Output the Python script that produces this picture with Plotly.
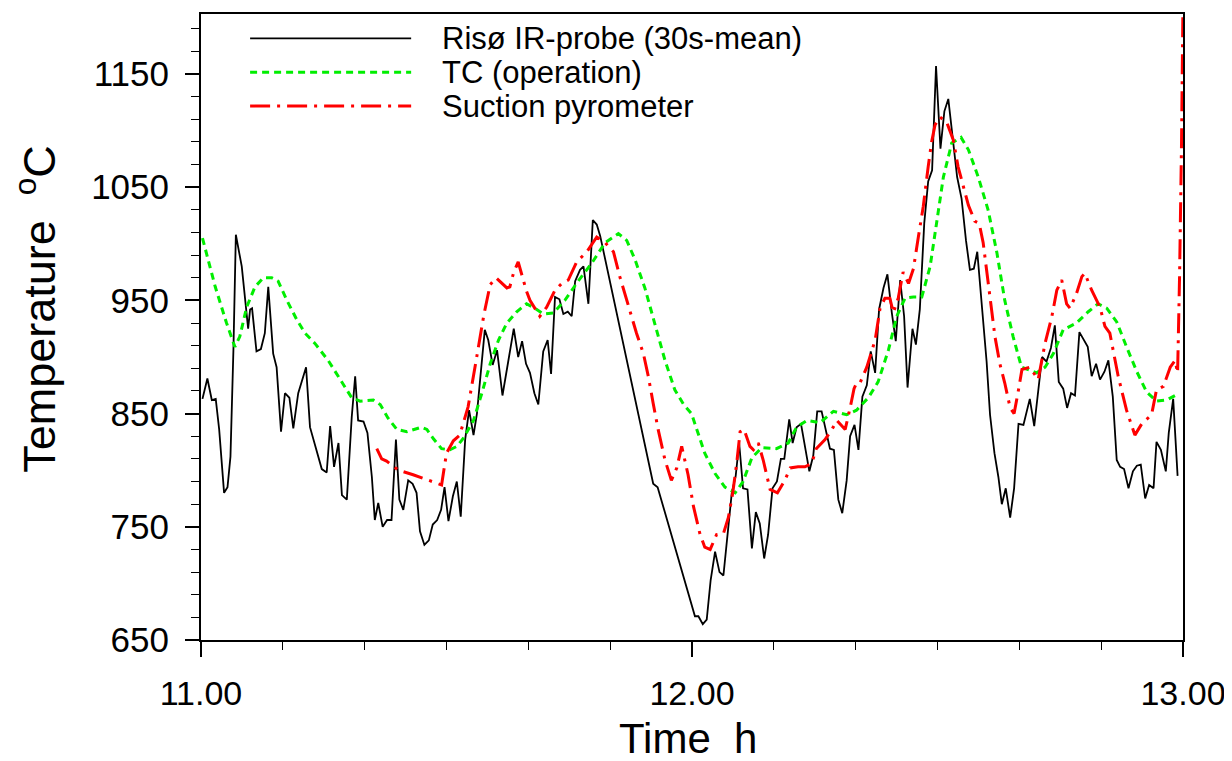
import plotly.graph_objects as go

# ---------------- data ----------------
ir_time = [11.003, 11.013, 11.022, 11.030, 11.037, 11.047, 11.054, 11.060, 11.066, 11.071,
           11.083, 11.096, 11.100, 11.104, 11.113, 11.122, 11.130, 11.137, 11.147, 11.154,
           11.163, 11.171, 11.180, 11.188, 11.198, 11.214, 11.222, 11.236, 11.246, 11.256,
           11.263, 11.271, 11.280, 11.287, 11.297, 11.307, 11.314, 11.320, 11.331, 11.339,
           11.348, 11.354, 11.361, 11.370, 11.379, 11.388, 11.397, 11.404, 11.412, 11.422,
           11.431, 11.439, 11.446, 11.455, 11.464, 11.472, 11.481, 11.489, 11.496, 11.504,
           11.513, 11.521, 11.529, 11.538, 11.546, 11.555, 11.562, 11.578, 11.585, 11.594,
           11.603, 11.614, 11.626, 11.637, 11.646, 11.654, 11.662, 11.670, 11.679, 11.687,
           11.697, 11.706, 11.713, 11.721, 11.730, 11.738, 11.747, 11.755, 11.762, 11.772,
           11.779, 11.789, 11.798, 11.806, 11.813, 11.921, 11.930, 12.006, 12.013, 12.022,
           12.030, 12.038, 12.047, 12.056, 12.064, 12.072, 12.081, 12.089, 12.096, 12.104,
           12.113, 12.122, 12.130, 12.138, 12.147, 12.155, 12.164, 12.173, 12.181, 12.188,
           12.198, 12.205, 12.213, 12.222, 12.232, 12.239, 12.247, 12.255, 12.264, 12.273,
           12.281, 12.289, 12.298, 12.306, 12.315, 12.322, 12.331, 12.339, 12.347, 12.356,
           12.364, 12.373, 12.381, 12.390, 12.398, 12.407, 12.415, 12.424, 12.432, 12.439,
           12.449, 12.456, 12.464, 12.473, 12.481, 12.489, 12.497, 12.506, 12.514, 12.522,
           12.532, 12.540, 12.549, 12.558, 12.566, 12.574, 12.581, 12.591, 12.600, 12.607,
           12.616, 12.624, 12.631, 12.639, 12.648, 12.656, 12.665, 12.675, 12.688, 12.697,
           12.705, 12.713, 12.722, 12.731, 12.739, 12.747, 12.756, 12.764, 12.772, 12.780,
           12.789, 12.798, 12.806, 12.814, 12.823, 12.831, 12.840, 12.848, 12.857, 12.865,
           12.872, 12.880, 12.889, 12.898, 12.906, 12.914, 12.923, 12.931, 12.940, 12.946,
           12.955, 12.965, 12.971, 12.980, 12.989]
ir_temp = [863, 881, 862, 863, 836, 780, 785, 812, 906, 1008,
           980, 925, 942, 943, 905, 907, 921, 962, 903, 891,
           834, 868, 864, 837, 868, 891, 838, 815, 801, 798,
           839, 803, 824, 778, 774, 847, 883, 844, 843, 833,
           794, 756, 771, 750, 756, 756, 827, 774, 765, 791,
           788, 780, 746, 734, 738, 752, 756, 765, 785, 755,
           777, 790, 759, 827, 853, 831, 850, 924, 915, 893,
           906, 866, 897, 925, 900, 914, 894, 886, 868, 858,
           905, 915, 885, 953, 951, 938, 940, 936, 967, 977,
           980, 947, 1021, 1017, 1007, 788, 785, 671, 671, 664,
           668, 703, 728, 710, 707, 744, 780, 795, 824, 784,
           783, 731, 763, 753, 722, 743, 784, 790, 810, 810,
           845, 824, 838, 841, 815, 799, 813, 852, 852, 833,
           819, 818, 774, 762, 791, 830, 840, 818, 865, 875,
           905, 886, 942, 961, 973, 939, 914, 968, 936, 873,
           925, 911, 942, 1018, 1055, 1065, 1157, 1084, 1117, 1128,
           1087, 1059, 1040, 1003, 977, 978, 993, 943, 896, 849,
           815, 794, 770, 784, 758, 784, 841, 840, 863, 839,
           871, 900, 896, 908, 928, 878, 872, 855, 868, 866,
           922, 915, 909, 883, 894, 880, 887, 897, 865, 809,
           803, 801, 784, 799, 804, 805, 775, 787, 784, 825,
           818, 799, 833, 863, 795]

tc_time = [11.003, 11.029, 11.052, 11.069, 11.079, 11.093, 11.110, 11.127, 11.144, 11.157,
           11.175, 11.195, 11.212, 11.232, 11.259, 11.287, 11.307, 11.324, 11.351, 11.365,
           11.381, 11.399, 11.419, 11.449, 11.460, 11.473, 11.490, 11.507, 11.521, 11.534,
           11.555, 11.572, 11.589, 11.606, 11.623, 11.643, 11.663, 11.680, 11.697, 11.718,
           11.741, 11.768, 11.796, 11.823, 11.850, 11.867, 11.884, 11.904, 11.925, 11.945,
           11.965, 11.983, 11.999, 12.010, 12.026, 12.047, 12.067, 12.088, 12.104, 12.122,
           12.142, 12.172, 12.196, 12.213, 12.234, 12.261, 12.288, 12.315, 12.335, 12.359,
           12.379, 12.400, 12.417, 12.434, 12.451, 12.468, 12.485, 12.498, 12.512, 12.529,
           12.548, 12.563, 12.583, 12.603, 12.621, 12.637, 12.654, 12.671, 12.682, 12.702,
           12.719, 12.736, 12.756, 12.783, 12.807, 12.827, 12.845, 12.865, 12.885, 12.906,
           12.926, 12.946, 12.967, 12.984]
tc_temp = [1005, 962, 930, 909, 918, 944, 962, 970, 970, 967,
           950, 933, 921, 912, 897, 878, 864, 861, 862, 858,
           846, 836, 834, 838, 836, 828, 819, 818, 821, 828,
           844, 868, 894, 915, 930, 940, 947, 943, 938, 939,
           950, 967, 983, 1001, 1009, 1003, 986, 961, 927, 897,
           871, 858, 850, 836, 815, 797, 785, 780, 790, 811,
           820, 819, 824, 838, 844, 842, 852, 849, 853, 864,
           878, 906, 936, 952, 953, 953, 980, 1018, 1059, 1089,
           1094, 1083, 1059, 1030, 992, 950, 918, 891, 889, 886,
           891, 903, 924, 930, 940, 947, 943, 931, 909, 887,
           869, 861, 862, 866]

sp_time = [11.358, 11.368, 11.378, 11.402, 11.432, 11.466, 11.490, 11.500, 11.514, 11.527,
           11.544, 11.560, 11.576, 11.589, 11.601, 11.623, 11.629, 11.637, 11.646, 11.663,
           11.670, 11.690, 11.704, 11.721, 11.735, 11.748, 11.765, 11.786, 11.806, 11.823,
           11.840, 11.853, 11.867, 11.887, 11.901, 11.911, 11.921, 11.931, 11.945, 11.958,
           11.969, 11.979, 11.992, 12.003, 12.016, 12.026, 12.037, 12.050, 12.064, 12.074,
           12.083, 12.091, 12.098, 12.106, 12.118, 12.125, 12.135, 12.145, 12.159, 12.174,
           12.189, 12.200, 12.216, 12.230, 12.244, 12.253, 12.271, 12.285, 12.295, 12.312,
           12.322, 12.330, 12.335, 12.342, 12.356, 12.373, 12.383, 12.393, 12.403, 12.410,
           12.420, 12.430, 12.441, 12.451, 12.461, 12.471, 12.481, 12.488, 12.495, 12.505,
           12.519, 12.532, 12.542, 12.553, 12.563, 12.576, 12.585, 12.593, 12.603, 12.610,
           12.617, 12.627, 12.637, 12.648, 12.656, 12.665, 12.672, 12.688, 12.705, 12.719,
           12.733, 12.743, 12.753, 12.763, 12.770, 12.783, 12.794, 12.800, 12.814, 12.831,
           12.841, 12.851, 12.868, 12.885, 12.902, 12.916, 12.936, 12.946, 12.960, 12.974,
           12.984, 12.989, 12.993, 12.997, 13.000]
sp_temp = [819, 810, 808, 800, 796, 791, 787, 815, 826, 831,
           856, 896, 937, 964, 970, 961, 962, 975, 984, 958,
           950, 936, 944, 959, 965, 968, 984, 993, 1006, 1001,
           993, 971, 950, 921, 903, 883, 859, 836, 809, 791,
           802, 821, 796, 768, 744, 732, 730, 743, 744, 758,
           780, 806, 834, 836, 821, 818, 824, 809, 783, 780,
           791, 802, 803, 803, 806, 819, 827, 836, 844, 836,
           855, 872, 877, 877, 891, 915, 943, 952, 952, 939,
           952, 975, 965, 978, 1006, 1033, 1068, 1090, 1105, 1112,
           1107, 1092, 1068, 1051, 1034, 1020, 1018, 1001, 965, 939,
           918, 894, 877, 855, 850, 871, 889, 891, 880, 912,
           936, 959, 968, 947, 943, 956, 971, 974, 959, 944,
           927, 921, 883, 853, 831, 841, 849, 871, 874, 891,
           897, 886, 971, 1089, 1215]

legend_names = ["Risø IR-probe (30s-mean)", "TC (operation)", "Suction pyrometer"]
x_ticks = [11.0, 12.0, 13.0]
x_ticktext = ["11.00", "12.00", "13.00"]
y_ticks = [650, 750, 850, 950, 1050, 1150]
x_title = "Time  h"
y_title = "Temperature  <sup>o</sup>C"

# ---------------- styles ----------------
FONT = "Liberation Sans, Arial, sans-serif"
colors = ["#000000", "#00ee00", "#ff0000"]
dashes = ["solid", "7px,5px", "20px,7px,3px,7px"]
widths = [1.8, 3, 3]

fig = go.Figure()
for (tt, vv), name, c, d, w in zip([(ir_time, ir_temp), (tc_time, tc_temp), (sp_time, sp_temp)],
                                   legend_names, colors, dashes, widths):
    fig.add_trace(go.Scatter(x=tt, y=vv, mode="lines", name=name,
                             line=dict(color=c, dash=d, width=w), showlegend=False))

# hand-built legend (long line samples, like the original)
leg_y = [0.961, 0.907, 0.853]
for name, c, d, w, yy in zip(legend_names, colors, dashes, widths, leg_y):
    fig.add_shape(type="line", xref="paper", yref="paper", x0=0.050, x1=0.214, y0=yy, y1=yy,
                  line=dict(color=c, dash=d, width=max(w, 1.4)))
    fig.add_annotation(xref="paper", yref="paper", x=0.243, y=yy, text=name, showarrow=False,
                       xanchor="left", yanchor="middle", font=dict(family=FONT, size=31, color="black"))

# axis titles
fig.add_annotation(xref="paper", yref="paper", x=0.496, y=-0.157, text=x_title, showarrow=False,
                   xanchor="center", yanchor="middle", font=dict(family=FONT, size=42, color="black"))
fig.add_annotation(xref="paper", yref="paper", x=-0.168, y=0.529, text=y_title, showarrow=False,
                   textangle=-90, xanchor="center", yanchor="middle",
                   font=dict(family=FONT, size=45, color="black"))

fig.update_layout(
    width=1232, height=761,
    margin=dict(l=193, r=57, t=6, b=129, autoexpand=False),
    paper_bgcolor="white", plot_bgcolor="white",
    font=dict(family=FONT, color="black"),
)
fig.update_xaxes(
    range=[11, 13], tickmode="array", tickvals=x_ticks, ticktext=x_ticktext,
    ticks="outside", ticklen=15, tickwidth=1.5, tickcolor="black",
    showline=True, linecolor="black", linewidth=2, mirror=True,
    showgrid=False, zeroline=False, automargin=False,
    tickfont=dict(family=FONT, size=34), ticklabelstandoff=7,
    minor=dict(tickmode="linear", tick0=11, dtick=1/6, ticks="outside", ticklen=8,
               tickwidth=1.2, tickcolor="black", showgrid=False),
)
fig.update_yaxes(
    range=[650, 1203], tickmode="array", tickvals=y_ticks,
    ticks="outside", ticklen=14, tickwidth=1.5, tickcolor="black",
    showline=True, linecolor="black", linewidth=2, mirror=True,
    showgrid=False, zeroline=False, automargin=False,
    tickfont=dict(family=FONT, size=35), ticklabelstandoff=9,
    minor=dict(tickmode="linear", tick0=650, dtick=20, ticks="outside", ticklen=8,
               tickwidth=1.2, tickcolor="black", showgrid=False),
)

fig.write_html("out.html")
